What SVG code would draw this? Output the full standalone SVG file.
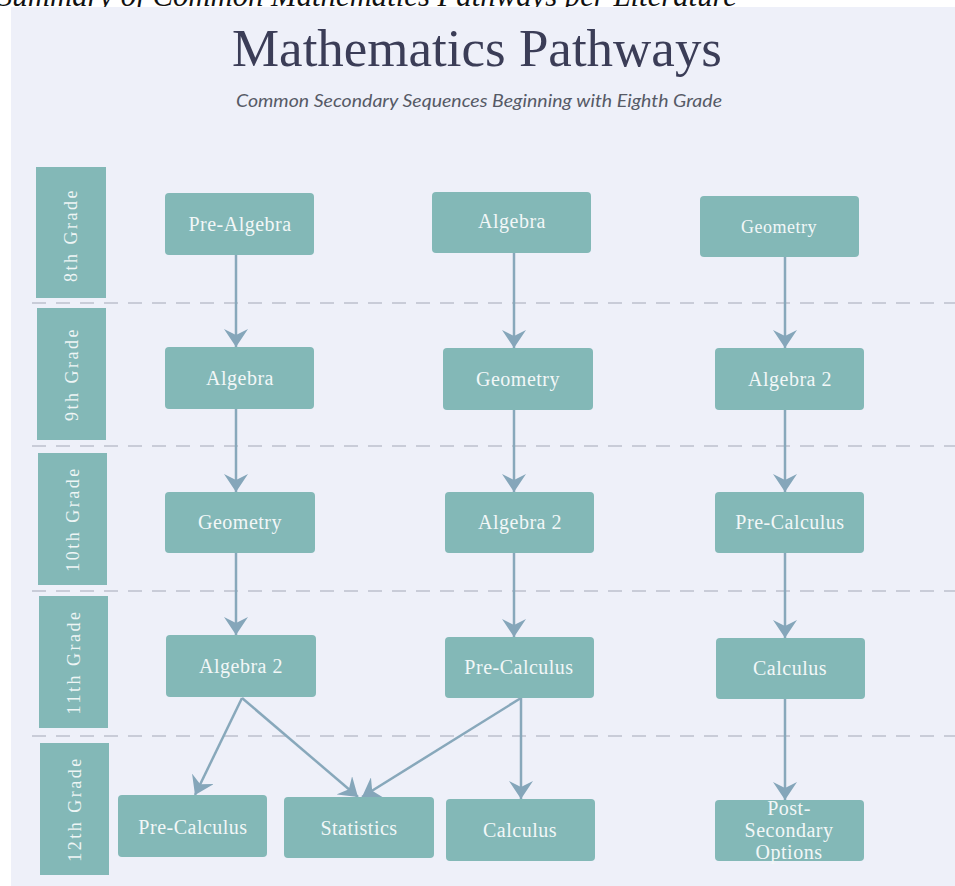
<svg xmlns="http://www.w3.org/2000/svg" width="955" height="886" viewBox="0 0 955 886">
<defs>
<style>
.serif{font-family:'Liberation Serif','Times New Roman',Times,serif;}
.node rect{fill:#83b8b7;}
.node text{font-family:'Liberation Serif','Times New Roman',Times,serif;font-size:20px;fill:#f2f7f7;text-anchor:middle;letter-spacing:0.5px;}
.grade rect{fill:#83b8b7;}
.grade text{font-family:'Liberation Serif','Times New Roman',Times,serif;font-size:18px;fill:#eef5f5;text-anchor:middle;letter-spacing:2.5px;}
.dash{stroke:#c9ccd8;stroke-width:2;stroke-dasharray:14 10;fill:none;}
.conn line{stroke:#88a8bb;stroke-width:2.5;fill:none;marker-end:url(#ah);}
</style>
<marker id="ah" viewBox="0 0 18 24" refX="18" refY="12" markerWidth="18" markerHeight="24" markerUnits="userSpaceOnUse" orient="auto">
<path d="M0,0 L18,12 L0,24 L6,12 Z" fill="#85a6ba"/>
</marker>
</defs>
<rect x="0" y="0" width="955" height="886" fill="#ffffff"/>
<text class="serif" x="-3" y="6" font-style="italic" font-size="30.5" fill="#111" textLength="740" lengthAdjust="spacingAndGlyphs">Summary of Common Mathematics Pathways per Literature</text>
<rect x="11" y="7" width="944" height="879" fill="#eef0f9"/>
<text class="serif" x="477" y="66" font-size="52" fill="#3b3d57" text-anchor="middle" textLength="490" lengthAdjust="spacingAndGlyphs">Mathematics Pathways</text>
<text x="479" y="107" font-family="Lato,'Liberation Sans',sans-serif" font-style="italic" font-size="16.5" fill="#565a66" text-anchor="middle" textLength="486" lengthAdjust="spacingAndGlyphs">Common Secondary Sequences Beginning with Eighth Grade</text>

<g id="dividers">
<line class="dash" x1="32" y1="303" x2="955" y2="303"/>
<line class="dash" x1="32" y1="446" x2="955" y2="446"/>
<line class="dash" x1="32" y1="591" x2="955" y2="591"/>
<line class="dash" x1="32" y1="736" x2="955" y2="736"/>
</g>

<g id="grade8" class="grade"><rect x="36" y="167" width="70" height="131"/><text transform="translate(77,235) rotate(-90)">8th Grade</text></g>
<g id="grade9" class="grade"><rect x="37" y="308" width="69" height="132"/><text transform="translate(78,374) rotate(-90)">9th Grade</text></g>
<g id="grade10" class="grade"><rect x="38" y="453" width="69" height="132"/><text transform="translate(79,519) rotate(-90)">10th Grade</text></g>
<g id="grade11" class="grade"><rect x="39" y="596" width="69" height="132"/><text transform="translate(80,662) rotate(-90)">11th Grade</text></g>
<g id="grade12" class="grade"><rect x="40" y="743" width="69" height="132"/><text transform="translate(81,809) rotate(-90)">12th Grade</text></g>

<g id="connectors" class="conn">
<line x1="236" y1="255" x2="236" y2="347"/>
<line x1="236" y1="409" x2="236" y2="492"/>
<line x1="236" y1="553" x2="236" y2="635"/>
<line x1="242" y1="698" x2="195" y2="795"/>
<line x1="242" y1="698" x2="358" y2="797"/>
<line x1="514" y1="253" x2="514" y2="348"/>
<line x1="514" y1="410" x2="514" y2="492"/>
<line x1="514" y1="553" x2="514" y2="637"/>
<line x1="521" y1="698" x2="362" y2="797"/>
<line x1="521" y1="698" x2="521" y2="799"/>
<line x1="785" y1="257" x2="785" y2="348"/>
<line x1="785" y1="410" x2="785" y2="492"/>
<line x1="785" y1="553" x2="785" y2="638"/>
<line x1="785" y1="699" x2="785" y2="800"/>
</g>

<g id="c1-prealgebra" class="node"><rect x="165" y="193" width="149" height="62" rx="4"/><text x="240" y="231">Pre-Algebra</text></g>
<g id="c1-algebra" class="node"><rect x="165" y="347" width="149" height="62" rx="4"/><text x="240" y="385">Algebra</text></g>
<g id="c1-geometry" class="node"><rect x="165" y="492" width="150" height="61" rx="4"/><text x="240" y="529">Geometry</text></g>
<g id="c1-algebra2" class="node"><rect x="166" y="635" width="150" height="62" rx="4"/><text x="241" y="673">Algebra 2</text></g>
<g id="c1-precalculus" class="node"><rect x="118" y="795" width="149" height="62" rx="4"/><text x="193" y="834">Pre-Calculus</text></g>
<g id="statistics" class="node"><rect x="284" y="797" width="150" height="61" rx="4"/><text x="359" y="835">Statistics</text></g>

<g id="c2-algebra" class="node"><rect x="432" y="192" width="159" height="61" rx="4"/><text x="512" y="228">Algebra</text></g>
<g id="c2-geometry" class="node"><rect x="443" y="348" width="150" height="62" rx="4"/><text x="518" y="386">Geometry</text></g>
<g id="c2-algebra2" class="node"><rect x="445" y="492" width="149" height="61" rx="4"/><text x="520" y="529">Algebra 2</text></g>
<g id="c2-precalculus" class="node"><rect x="445" y="637" width="149" height="61" rx="4"/><text x="519" y="674">Pre-Calculus</text></g>
<g id="c2-calculus" class="node"><rect x="446" y="799" width="149" height="62" rx="4"/><text x="520" y="837">Calculus</text></g>

<g id="c3-geometry" class="node"><rect x="700" y="196" width="159" height="61" rx="4"/><text x="779" y="233" style="font-size:18px">Geometry</text></g>
<g id="c3-algebra2" class="node"><rect x="715" y="348" width="149" height="62" rx="4"/><text x="790" y="386">Algebra 2</text></g>
<g id="c3-precalculus" class="node"><rect x="715" y="492" width="149" height="61" rx="4"/><text x="790" y="529">Pre-Calculus</text></g>
<g id="c3-calculus" class="node"><rect x="716" y="638" width="149" height="61" rx="4"/><text x="790" y="675">Calculus</text></g>
<g id="post-secondary" class="node"><rect x="715" y="800" width="149" height="61" rx="4"/><text x="789" y="815">Post-</text><text x="789" y="837">Secondary</text><text x="789" y="859">Options</text></g>
</svg>
